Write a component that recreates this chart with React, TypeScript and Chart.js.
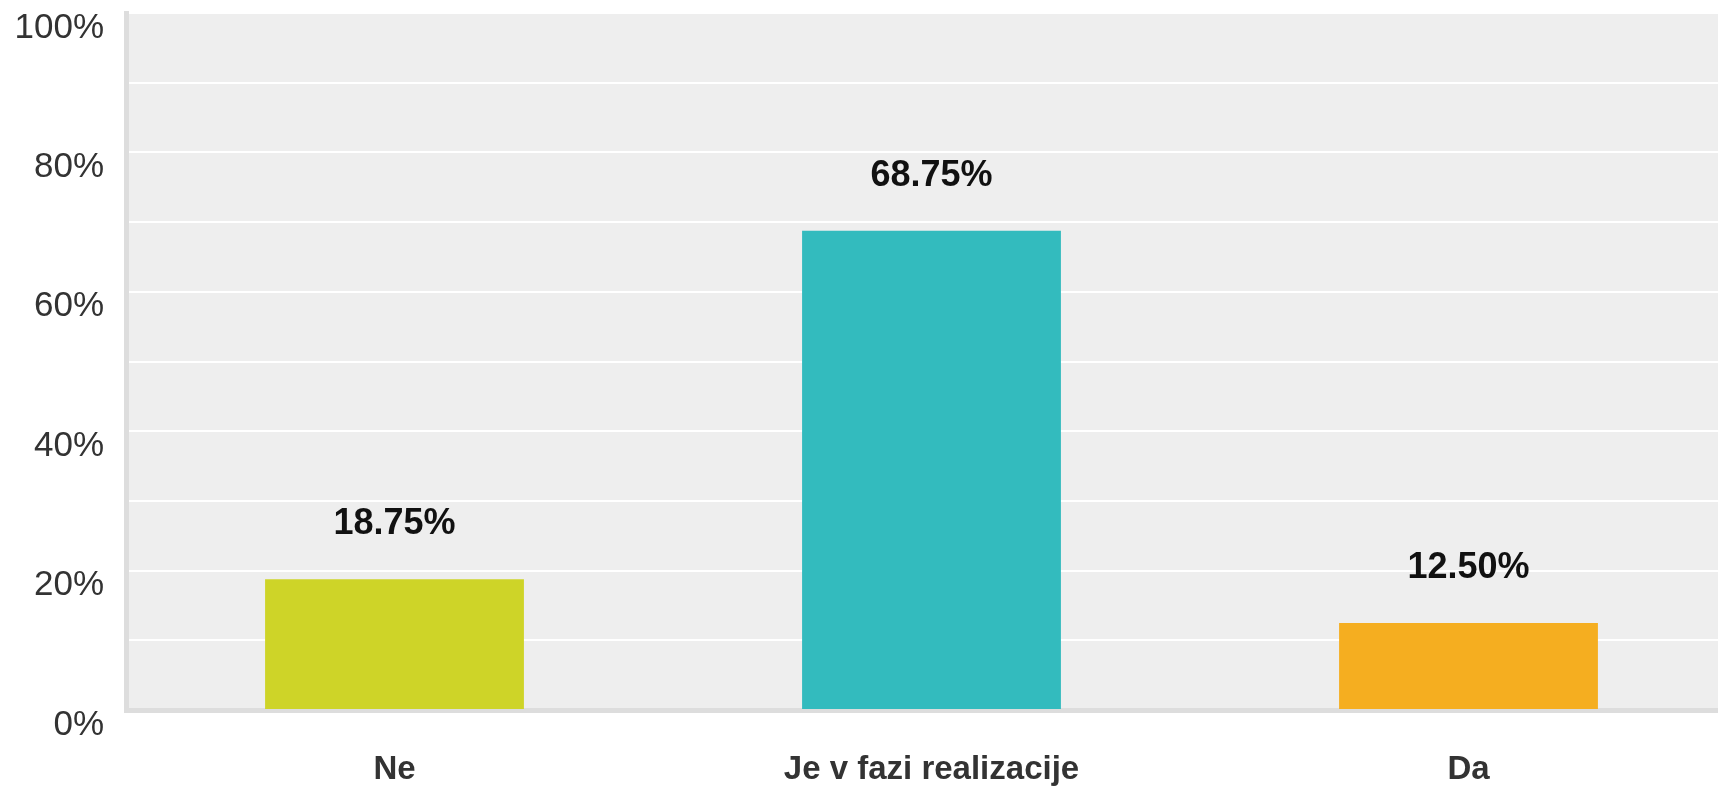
import React, { useEffect, useRef } from "react";
import { Chart, registerables } from "chart.js";

Chart.register(...registerables);

const categories = ["Ne", "Je v fazi realizacije", "Da"];
const values = [18.75, 68.75, 12.5];
const valueLabels = ["18.75%", "68.75%", "12.50%"];
const barColors = ["#CED428", "#33BBBE", "#F5AE20"];
const yTickStep = 10;
const yLabelEvery = 20;

const FONT = "'Liberation Sans', Arial, sans-serif";

const plotBackground = {
  id: "plotBackground",
  beforeDraw(chart: any) {
    const { ctx, chartArea } = chart;
    ctx.save();
    ctx.fillStyle = "#EEEEEE";
    ctx.fillRect(chartArea.left, chartArea.top, chartArea.right - chartArea.left, chartArea.bottom - chartArea.top);
    ctx.restore();
  },
};

const valueLabelPlugin = {
  id: "valueLabelPlugin",
  afterDatasetsDraw(chart: any) {
    const { ctx } = chart;
    const meta = chart.getDatasetMeta(0);
    ctx.save();
    ctx.font = `bold 36px ${FONT}`;
    ctx.fillStyle = "#111111";
    ctx.textAlign = "center";
    ctx.textBaseline = "alphabetic";
    meta.data.forEach((bar: any, i: number) => {
      ctx.fillText(valueLabels[i], bar.x, bar.y - 45);
    });
    ctx.restore();
  },
};

export default function App() {
  const canvasRef = useRef<HTMLCanvasElement>(null);

  useEffect(() => {
    const chart = new Chart(canvasRef.current as HTMLCanvasElement, {
      type: "bar",
      data: {
        labels: categories,
        datasets: [
          {
            data: values,
            backgroundColor: barColors,
            borderWidth: 0,
            categoryPercentage: 1,
            barPercentage: 0.482,
          },
        ],
      },
      options: {
        animation: false,
        responsive: false,
        maintainAspectRatio: false,
        layout: { padding: { top: 13, right: 3, left: 0, bottom: 0 } },
        plugins: {
          legend: { display: false },
          tooltip: { enabled: false },
          title: { display: false },
        },
        scales: {
          x: {
            grid: { display: false, drawTicks: false },
            border: { display: true, color: "#DDDDDD", width: 5 },
            ticks: {
              font: { family: FONT, size: 33, weight: "bold" },
              color: "#333333",
              padding: 40,
              maxRotation: 0,
              autoSkip: false,
            },
            afterFit(scale: any) {
              scale.height = 76;
              scale.paddingLeft = 0;
              scale.paddingRight = 0;
            },
          },
          y: {
            min: 0,
            max: 100,
            grid: { color: "#FFFFFF", lineWidth: 2, drawTicks: false },
            border: { display: true, color: "#DDDDDD", width: 5 },
            ticks: {
              stepSize: yTickStep,
              font: { family: FONT, size: 35 },
              color: "#333333",
              padding: 22,
              labelOffset: 15,
              autoSkip: false,
              callback: (v: any) => (Number(v) % yLabelEvery === 0 ? `${v}%` : ""),
            },
            afterFit(scale: any) {
              scale.width = 126;
              scale.paddingTop = 0;
              scale.paddingBottom = 0;
            },
          },
        },
      },
      plugins: [plotBackground, valueLabelPlugin],
    });
    return () => chart.destroy();
  }, []);

  return (
    <div style={{ position: "fixed", left: 0, top: 0, width: 1740, height: 786, overflow: "hidden", background: "#FFFFFF" }}>
      <canvas ref={canvasRef} width={1740} height={786} style={{ display: "block" }} />
    </div>
  );
}
